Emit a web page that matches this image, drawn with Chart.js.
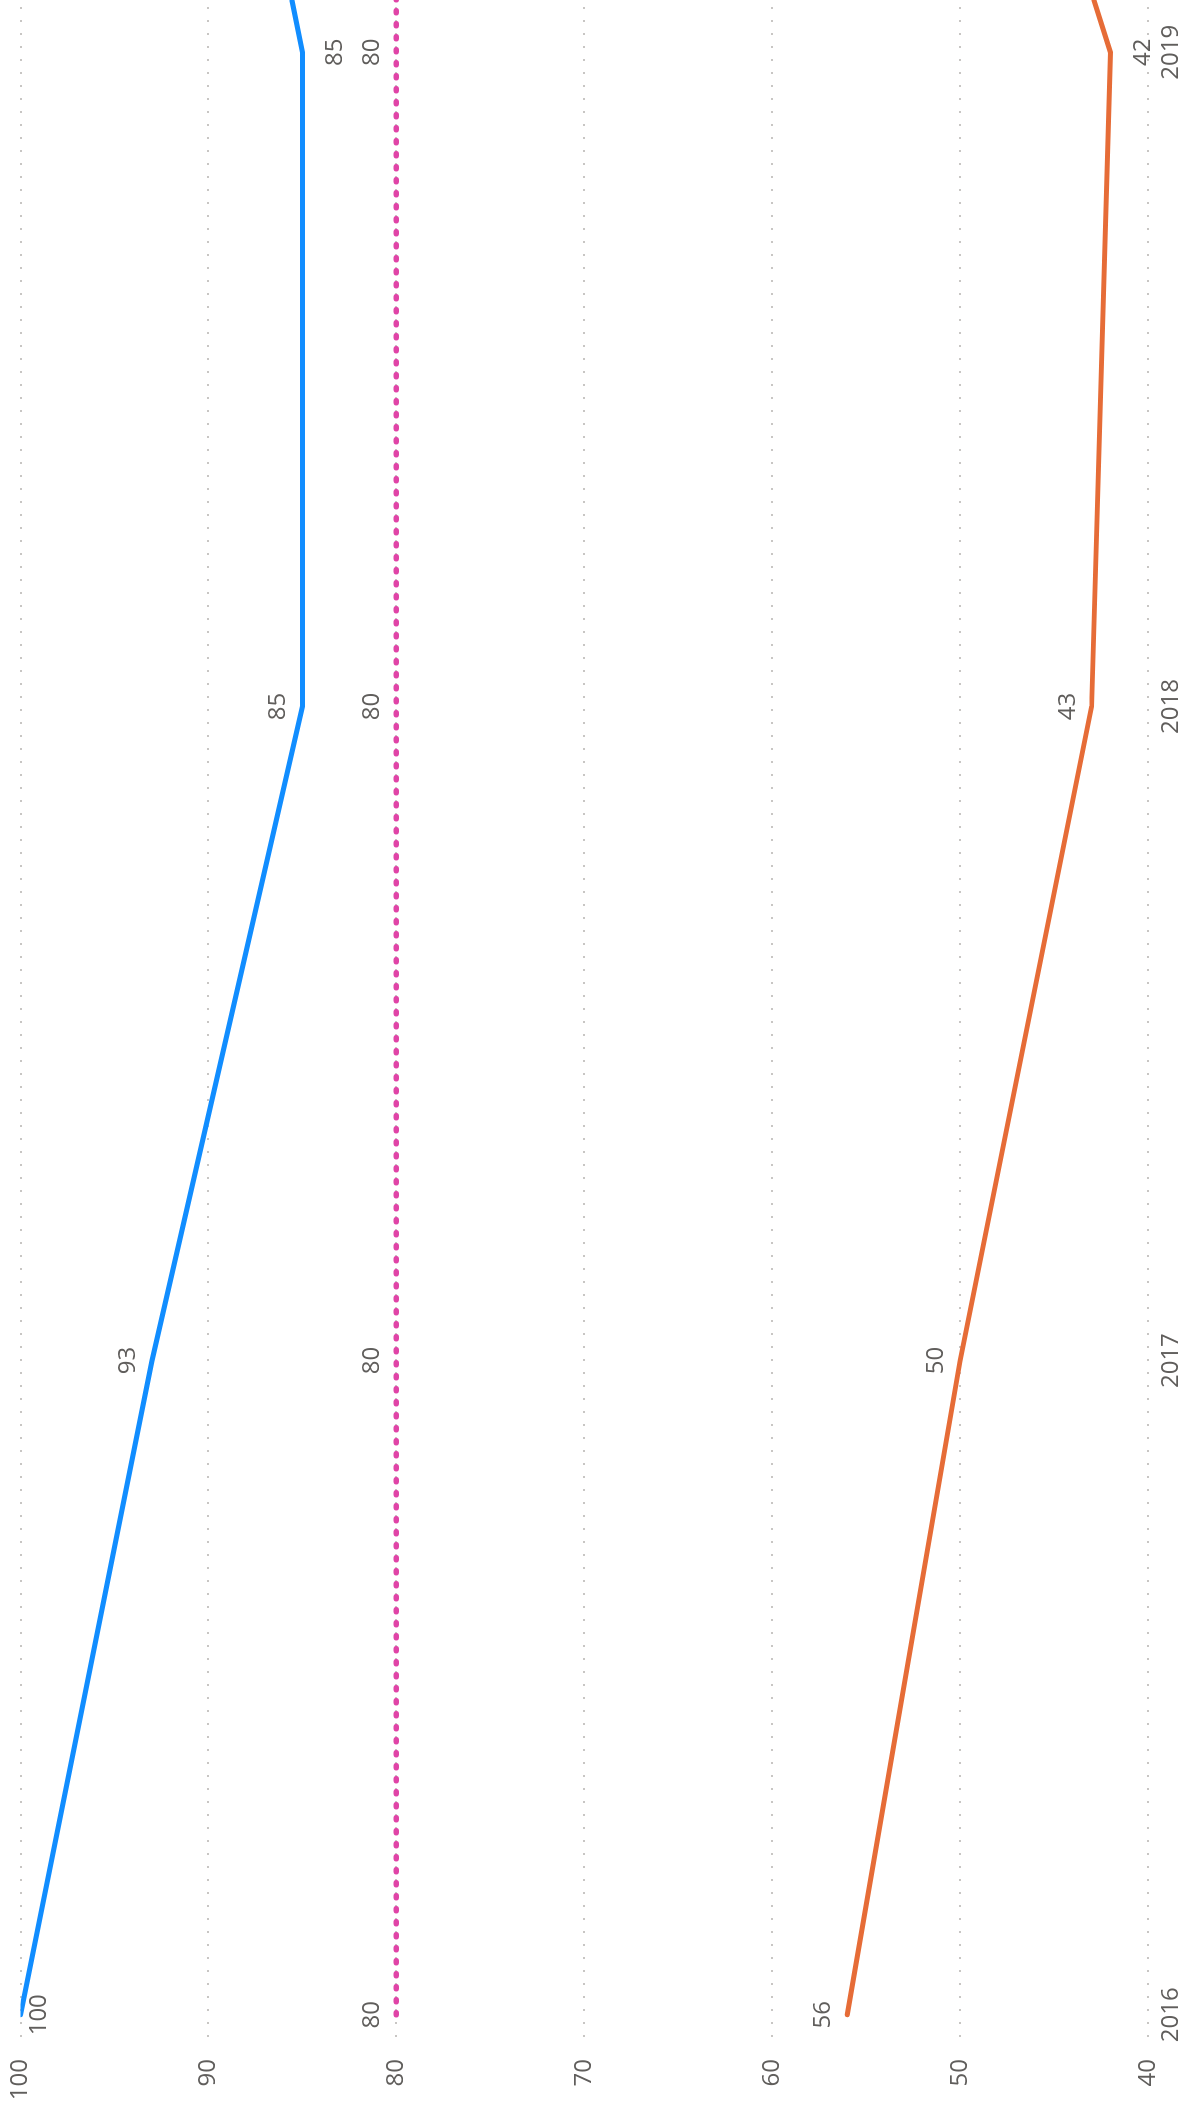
<!DOCTYPE html>
<html>
<head>
<meta charset="utf-8">
<title>Trend</title>
<script src="https://cdn.jsdelivr.net/npm/chart.js@4.4.1/dist/chart.umd.min.js"></script>
<style>
  html, body { margin: 0; padding: 0; background: #fff; }
  #wrap { position: relative; width: 1186px; height: 2112px; overflow: hidden; }
  /* the chart is drawn landscape and turned a quarter turn to the left */
  #chart { position: absolute; left: 0; top: 0; transform-origin: 0 0; transform: translateY(2112px) rotate(-90deg); }
</style>
</head>
<body>
<div id="wrap"><canvas id="chart" width="2112" height="1186"></canvas></div>
<script>
// data
const years = [2016, 2017, 2018, 2019, 2020];
const yearTicks = [2016, 2017, 2018, 2019];
const valueTicks = [40, 50, 60, 70, 80, 90, 100];
const seriesBlue = [100, 93, 85, 85, 92];
const seriesOrange = [56, 50, 43, 42, 53];
const seriesTarget = [80, 80, 80, 80, 80];

// point labels that sit under the line, with their gap in px
const blueBelow = { 0: 8, 3: 23 };
const orangeBelow = { 3: 23 };
const targetBelow = {};

const textGrey = '#605E5C';
const fontFamily = '"Segoe UI", "Open Sans", sans-serif';
Chart.defaults.font.family = fontFamily;
Chart.defaults.font.size = 24;
Chart.defaults.color = textGrey;

const toPoints = arr => arr.map((v, i) => ({ x: years[i], y: v }));

// value labels next to each point
const valueLabels = {
  id: 'valueLabels',
  afterDatasetsDraw(chart) {
    const ctx = chart.ctx;
    const area = chart.chartArea;
    ctx.save();
    ctx.font = '24px ' + fontFamily;
    ctx.fillStyle = textGrey;
    ctx.textAlign = 'center';
    ctx.textBaseline = 'alphabetic';
    chart.data.datasets.forEach((ds, i) => {
      const meta = chart.getDatasetMeta(i);
      meta.data.forEach((pt, j) => {
        if (pt.x > area.right) return;
        const gap = ds.labelBelow[j];
        const txt = String(ds.data[j].y);
        // digits are about 17px tall at this size
        const y = gap !== undefined ? pt.y + gap + 17 : pt.y - 17;
        ctx.fillText(txt, pt.x, y);
      });
    });
    ctx.restore();
  }
};

new Chart(document.getElementById('chart'), {
  type: 'line',
  data: {
    datasets: [
      {
        label: 'Blue',
        data: toPoints(seriesBlue),
        borderColor: '#118DFF',
        borderWidth: 5,
        borderCapStyle: 'round',
        pointRadius: 0,
        labelBelow: blueBelow
      },
      {
        label: 'Target',
        data: toPoints(seriesTarget),
        borderColor: '#E044A7',
        borderWidth: 5.5,
        borderDash: [2, 11],
        borderCapStyle: 'round',
        pointRadius: 0,
        labelBelow: targetBelow
      },
      {
        label: 'Orange',
        data: toPoints(seriesOrange),
        borderColor: '#E66C37',
        borderWidth: 5,
        borderCapStyle: 'round',
        pointRadius: 0,
        labelBelow: orangeBelow
      }
    ]
  },
  options: {
    responsive: false,
    animation: false,
    layout: { padding: { top: 20.5, right: 0, bottom: 0, left: 0 } },
    plugins: { legend: { display: false }, tooltip: { enabled: false } },
    scales: {
      x: {
        type: 'linear',
        min: 2015.966,
        max: 2019.08,
        grid: { display: false, drawTicks: false },
        border: { display: false },
        afterBuildTicks: scale => { scale.ticks = yearTicks.map(v => ({ value: v })); },
        afterFit: scale => { scale.height = 38; },
        ticks: { padding: 9, maxRotation: 0, callback: v => String(v) }
      },
      y: {
        min: 40,
        max: 100,
        grid: { color: '#C8C6C4', lineWidth: 2, drawTicks: false },
        border: { display: false, dash: [2, 11] },
        afterBuildTicks: scale => { scale.ticks = valueTicks.map(v => ({ value: v })); },
        afterFit: scale => {
          scale.width = 75;
          // the end labels may run past the plot edge
          scale.paddingTop = 0;
          scale.paddingBottom = 0;
        },
        ticks: { padding: 22 }
      }
    }
  },
  plugins: [valueLabels]
});
</script>
</body>
</html>
